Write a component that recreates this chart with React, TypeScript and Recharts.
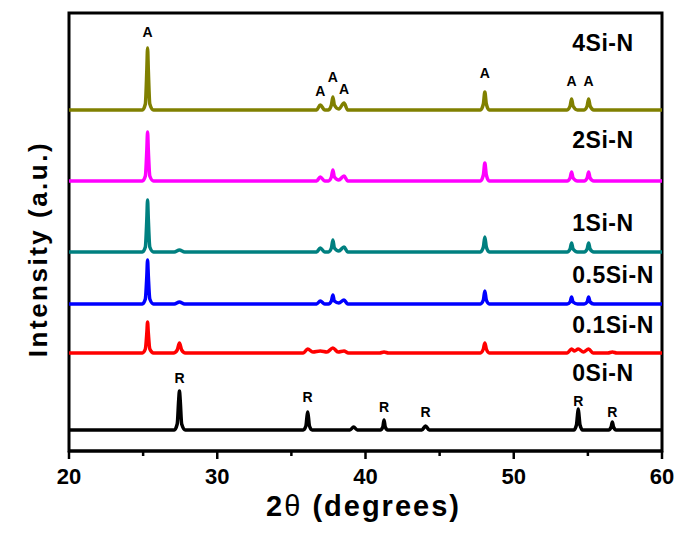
import React from "react";
import { ComposedChart, Line, Scatter, XAxis, YAxis, ReferenceArea } from "recharts";

// 2θ / intensity pairs (intensity above each pattern's own baseline)
const si4: [number, number][] = [
  [20, 0], [24.95, 0], [25.15, 6], [25.25, 40], [25.3, 62], [25.35, 40], [25.45, 6], [25.7, 0],
  [36.7, 0], [36.95, 5], [37.25, 0], [37.5, 0], [37.7, 5], [37.8, 13], [37.9, 5], [38.2, 1],
  [38.55, 7], [38.8, 0], [47.75, 0], [47.95, 6], [48.05, 18], [48.15, 6], [48.35, 0],
  [53.6, 0], [53.8, 4], [53.9, 11], [54.0, 4], [54.3, 0], [54.75, 0], [54.95, 4], [55.05, 11],
  [55.15, 4], [55.4, 0], [60, 0],
];
const si2: [number, number][] = [
  [20, 0], [24.95, 0], [25.15, 5], [25.25, 31], [25.3, 49], [25.35, 31], [25.45, 5], [25.7, 0],
  [36.7, 0], [36.95, 4], [37.25, 0], [37.5, 0], [37.7, 4], [37.8, 11], [37.9, 4], [38.2, 1],
  [38.55, 5], [38.8, 0], [47.75, 0], [47.95, 6], [48.05, 18], [48.15, 6], [48.35, 0],
  [53.6, 0], [53.8, 3], [53.9, 9], [54.0, 3], [54.3, 0], [54.75, 0], [54.95, 3], [55.05, 9],
  [55.15, 3], [55.4, 0], [60, 0],
];
const si1: [number, number][] = [
  [20, 0], [24.95, 0], [25.15, 5], [25.25, 33], [25.3, 52], [25.35, 33], [25.45, 5], [25.7, 0],
  [27.1, 0], [27.45, 2], [27.8, 0],
  [36.7, 0], [36.95, 4], [37.25, 0], [37.5, 0], [37.7, 4], [37.8, 12], [37.9, 4], [38.2, 1],
  [38.55, 5], [38.8, 0], [47.75, 0], [47.95, 5], [48.05, 15], [48.15, 5], [48.35, 0],
  [53.6, 0], [53.8, 3], [53.9, 9], [54.0, 3], [54.3, 0], [54.75, 0], [54.95, 3], [55.05, 9],
  [55.15, 3], [55.4, 0], [60, 0],
];
const si05: [number, number][] = [
  [20, 0], [24.95, 0], [25.15, 5], [25.25, 28], [25.3, 44], [25.35, 28], [25.45, 5], [25.7, 0],
  [27.1, 0], [27.45, 2], [27.8, 0],
  [36.7, 0], [36.95, 3], [37.25, 0], [37.5, 0], [37.7, 3], [37.8, 9], [37.9, 3], [38.2, 1],
  [38.55, 4], [38.8, 0], [47.75, 0], [47.95, 4], [48.05, 13], [48.15, 4], [48.35, 0],
  [53.6, 0], [53.8, 2], [53.9, 7], [54.0, 2], [54.3, 0], [54.75, 0], [54.95, 2], [55.05, 7],
  [55.15, 2], [55.4, 0], [60, 0],
];
const si01: [number, number][] = [
  [20, 0], [24.95, 0], [25.15, 4], [25.25, 20], [25.3, 31], [25.35, 20], [25.45, 4], [25.7, 0],
  [27.05, 0], [27.3, 3], [27.45, 10], [27.6, 3], [27.85, 0],
  [35.8, 0], [36.1, 4], [36.45, 1], [36.95, 2], [37.4, 1], [37.8, 5], [38.15, 1], [38.55, 2], [38.85, 0],
  [40.95, 0], [41.25, 1], [41.55, 0], [47.75, 0], [47.95, 4], [48.05, 10], [48.15, 4], [48.35, 0],
  [53.6, 0], [53.9, 4], [54.1, 2], [54.35, 4], [54.7, 1], [55.05, 4], [55.35, 0],
  [56.35, 0], [56.65, 1], [56.95, 0], [60, 0],
];
const si0: [number, number][] = [
  [20, 0], [27.1, 0], [27.3, 6], [27.4, 30], [27.45, 39], [27.5, 30], [27.6, 6], [27.85, 0],
  [35.8, 0], [35.98, 4], [36.05, 13], [36.1, 18], [36.15, 13], [36.22, 4], [36.4, 0],
  [38.95, 0], [39.2, 3], [39.45, 0], [41.0, 0], [41.17, 3], [41.25, 10], [41.33, 3], [41.5, 0],
  [43.8, 0], [44.05, 4], [44.3, 0],
  [54.05, 0], [54.23, 5], [54.3, 15], [54.35, 21], [54.4, 15], [54.47, 5], [54.65, 0],
  [56.4, 0], [56.57, 3], [56.65, 8], [56.73, 3], [56.9, 0], [60, 0],
];

const seriesNames = ["4Si-N", "2Si-N", "1Si-N", "0.5Si-N", "0.1Si-N", "0Si-N"];
const seriesColors = ["#808000", "#ff00ff", "#008080", "#0000ff", "#ff0000", "#000000"];
const seriesOffsets = [341, 270, 199, 147, 98, 21];
const seriesPoints = [si4, si2, si1, si05, si01, si0];
const nameLabelX = 53.95;
const nameLabelY = [408, 311, 228, 176, 126, 78];

// phase markers: A = anatase, R = rutile
const peakLabelX = [25.3, 36.95, 37.8, 38.55, 48.05, 53.9, 55.05, 27.45, 36.1, 41.25, 44.05, 54.35, 56.65];
const peakLabelY = [419, 360, 374, 362, 378, 370, 370, 73, 54, 44, 39, 50, 39];
const peakLabelText = ["A", "A", "A", "A", "A", "A", "A", "R", "R", "R", "R", "R", "R"];

const xTicks = [20, 25, 30, 35, 40, 45, 50, 55, 60];
const X_MIN = 20;
const X_MAX = 60;
const Y_MAX = 438;

const FONT = "'Liberation Sans', Arial, sans-serif";

const peakLabels = peakLabelX.map((x, i) => ({ x, y: peakLabelY[i], text: peakLabelText[i] }));

const AxisTick = (props: any) => {
  const { x, y, payload } = props;
  const major = payload.value % 10 === 0;
  return (
    <g>
      <line x1={x} x2={x} y1={y} y2={y + (major ? 8 : 5)} stroke="#000" strokeWidth={2.5} />
      {major && (
        <text x={x} y={y + 33} textAnchor="middle" fontFamily={FONT} fontWeight="bold" fontSize={22} fill="#000">
          {payload.value}
        </text>
      )}
    </g>
  );
};

// axis titles and series names, placed from the plot box the x axis reports
const Titles = ({ viewBox }: any) => {
  const { x, y, width } = viewBox;
  const plotTop = 13;
  const plotH = y - plotTop;
  const nx = x + ((nameLabelX - X_MIN) / (X_MAX - X_MIN)) * width;
  return (
    <g fontFamily={FONT} fontWeight="bold" fill="#000">
      <text x={x + width / 2 - 2} y={y + 65} textAnchor="middle" fontSize={29} letterSpacing={2}>
        2<tspan fontWeight="normal">θ</tspan> (degrees)
      </text>
      <text transform="translate(47, 249) rotate(-90)" textAnchor="middle" fontSize={26} letterSpacing={2.5}>
        Intensity (a.u.)
      </text>
      {seriesNames.map((name, i) => (
        <text
          key={name}
          x={nx}
          y={y - (nameLabelY[i] / Y_MAX) * plotH}
          textAnchor="start"
          dominantBaseline="central"
          fontSize={23}
          letterSpacing={0.5}
        >
          {name}
        </text>
      ))}
    </g>
  );
};

export default function App() {
  return (
    <div style={{ position: "absolute", left: 0, top: 0, width: 689, height: 534, background: "#fff" }}>
      <ComposedChart width={689} height={534} margin={{ top: 13, right: 27, bottom: 23, left: 69 }}>
        <XAxis
          type="number"
          dataKey="x"
          domain={[X_MIN, X_MAX]}
          ticks={xTicks}
          interval={0}
          height={60}
          tickSize={0}
          tickMargin={0}
          tickLine={false}
          tick={<AxisTick />}
          axisLine={{ stroke: "#000", strokeWidth: 3 }}
          allowDataOverflow
          label={{ content: Titles }}
        />
        <YAxis type="number" domain={[0, Y_MAX]} hide allowDataOverflow />
        <ReferenceArea
          x1={X_MIN}
          x2={X_MAX}
          y1={0}
          y2={Y_MAX}
          fill="none"
          fillOpacity={0}
          stroke="#000"
          strokeWidth={3}
          ifOverflow="visible"
        />
        {seriesPoints.map((pts, i) => (
          <Line
            key={seriesNames[i]}
            data={pts.map(([x, y]) => ({ x, y: y + seriesOffsets[i] }))}
            dataKey="y"
            type="monotone"
            stroke={seriesColors[i]}
            strokeWidth={3.5}
            strokeLinejoin="round"
            dot={false}
            activeDot={false}
            isAnimationActive={false}
          />
        ))}
        <Scatter
          data={peakLabels}
          dataKey="y"
          isAnimationActive={false}
          shape={(p: any) => (
            <text x={p.cx} y={p.cy} textAnchor="middle" dominantBaseline="central" fontFamily={FONT} fontWeight="bold" fontSize={14} fill="#000">
              {p.payload.text}
            </text>
          )}
        />
      </ComposedChart>
    </div>
  );
}
